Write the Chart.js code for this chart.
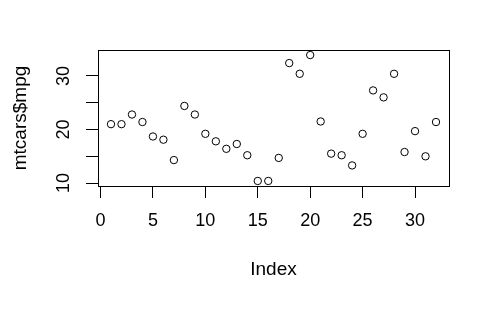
<!DOCTYPE html>
<html><head><meta charset="utf-8">
<script src="https://cdn.jsdelivr.net/npm/chart.js@4"></script>
<style>html,body{margin:0;padding:0;background:#fff}#wrap{width:500px;height:309px}</style>
</head><body><div id="wrap"><canvas id="c" width="500" height="309"></canvas></div>
<script>
const mpg = [21.0, 21.0, 22.8, 21.4, 18.7, 18.1, 14.3, 24.4, 22.8, 19.2, 17.8, 16.4, 17.3, 15.2, 10.4, 10.4,
             14.7, 32.4, 30.4, 33.9, 21.5, 15.5, 15.2, 13.3, 19.2, 27.3, 26.0, 30.4, 15.8, 19.7, 15.0, 21.4];
const xTicks = [0, 5, 10, 15, 20, 25, 30];
const yTicks = [10, 15, 20, 25, 30];
const yLabels = ['10', '', '20', '', '30'];
const xTitle = 'Index';
const yTitle = 'mtcars$mpg';

const points = mpg.map((v, i) => ({x: i + 1, y: v}));
const xr = [1, mpg.length], yr = [Math.min(...mpg), Math.max(...mpg)];
const xPad = (xr[1] - xr[0]) * 0.04, yPad = (yr[1] - yr[0]) * 0.04;
const FAMILY = '"Liberation Sans", Arial, sans-serif';
const FONT = {family: FAMILY, size: 18};
const TFONT = {family: FAMILY, size: 19};

const boxPlugin = {
  id: 'box',
  afterDraw(chart) {
    const {ctx, chartArea: a} = chart;
    ctx.save();
    ctx.strokeStyle = '#000';
    ctx.lineWidth = 1;
    ctx.strokeRect(Math.round(a.left) + 0.5, Math.round(a.top) + 0.5, Math.round(a.right - a.left), Math.round(a.bottom - a.top));
    // rotated y tick labels (R style, las=0)
    const ys = chart.scales.y;
    ctx.fillStyle = '#000';
    ctx.font = '18px ' + FAMILY;
    ctx.textAlign = 'center';
    ctx.textBaseline = 'middle';
    yTicks.forEach((v, i) => {
      if (!yLabels[i]) return;
      const py = ys.getPixelForValue(v);
      ctx.save();
      ctx.translate(64, py);
      ctx.rotate(-Math.PI / 2);
      ctx.fillText(yLabels[i], 0, 0);
      ctx.restore();
    });
    ctx.restore();
  }
};

new Chart(document.getElementById('c'), {
  type: 'scatter',
  data: {datasets: [{data: points, pointRadius: 3.7, pointHoverRadius: 3.7, borderWidth: 1,
    borderColor: '#000', backgroundColor: 'rgba(0,0,0,0)'}]},
  options: {
    responsive: false, animation: false,
    events: [],
    layout: {padding: {top: 50, right: 51, left: 0, bottom: 0}},
    plugins: {legend: {display: false}, tooltip: {enabled: false}},
    scales: {
      x: {
        type: 'linear', min: xr[0] - xPad, max: xr[1] + xPad,
        afterBuildTicks: s => { s.ticks = xTicks.map(v => ({value: v})); },
        afterFit: s => { s.height = 123; },
        grid: {drawOnChartArea: false, drawTicks: true, tickLength: 12, color: '#000', lineWidth: 1},
        border: {display: false},
        ticks: {color: '#000', font: FONT, padding: 12, maxRotation: 0, autoSkip: false,
          callback: v => String(v)},
        title: {display: true, text: xTitle, color: '#000', font: TFONT, padding: {top: 0, bottom: 28}}
      },
      y: {
        type: 'linear', min: yr[0] - yPad, max: yr[1] + yPad,
        afterBuildTicks: s => { s.ticks = yTicks.map(v => ({value: v})); },
        afterFit: s => { s.width = 98; },
        grid: {drawOnChartArea: false, drawTicks: true, tickLength: 12, color: '#000', lineWidth: 1},
        border: {display: false},
        ticks: {display: false, autoSkip: false},
        title: {display: true, text: yTitle, color: '#000', font: TFONT, padding: {top: 9, bottom: 0}}
      }
    }
  },
  plugins: [boxPlugin]
});
</script>
</body></html>
